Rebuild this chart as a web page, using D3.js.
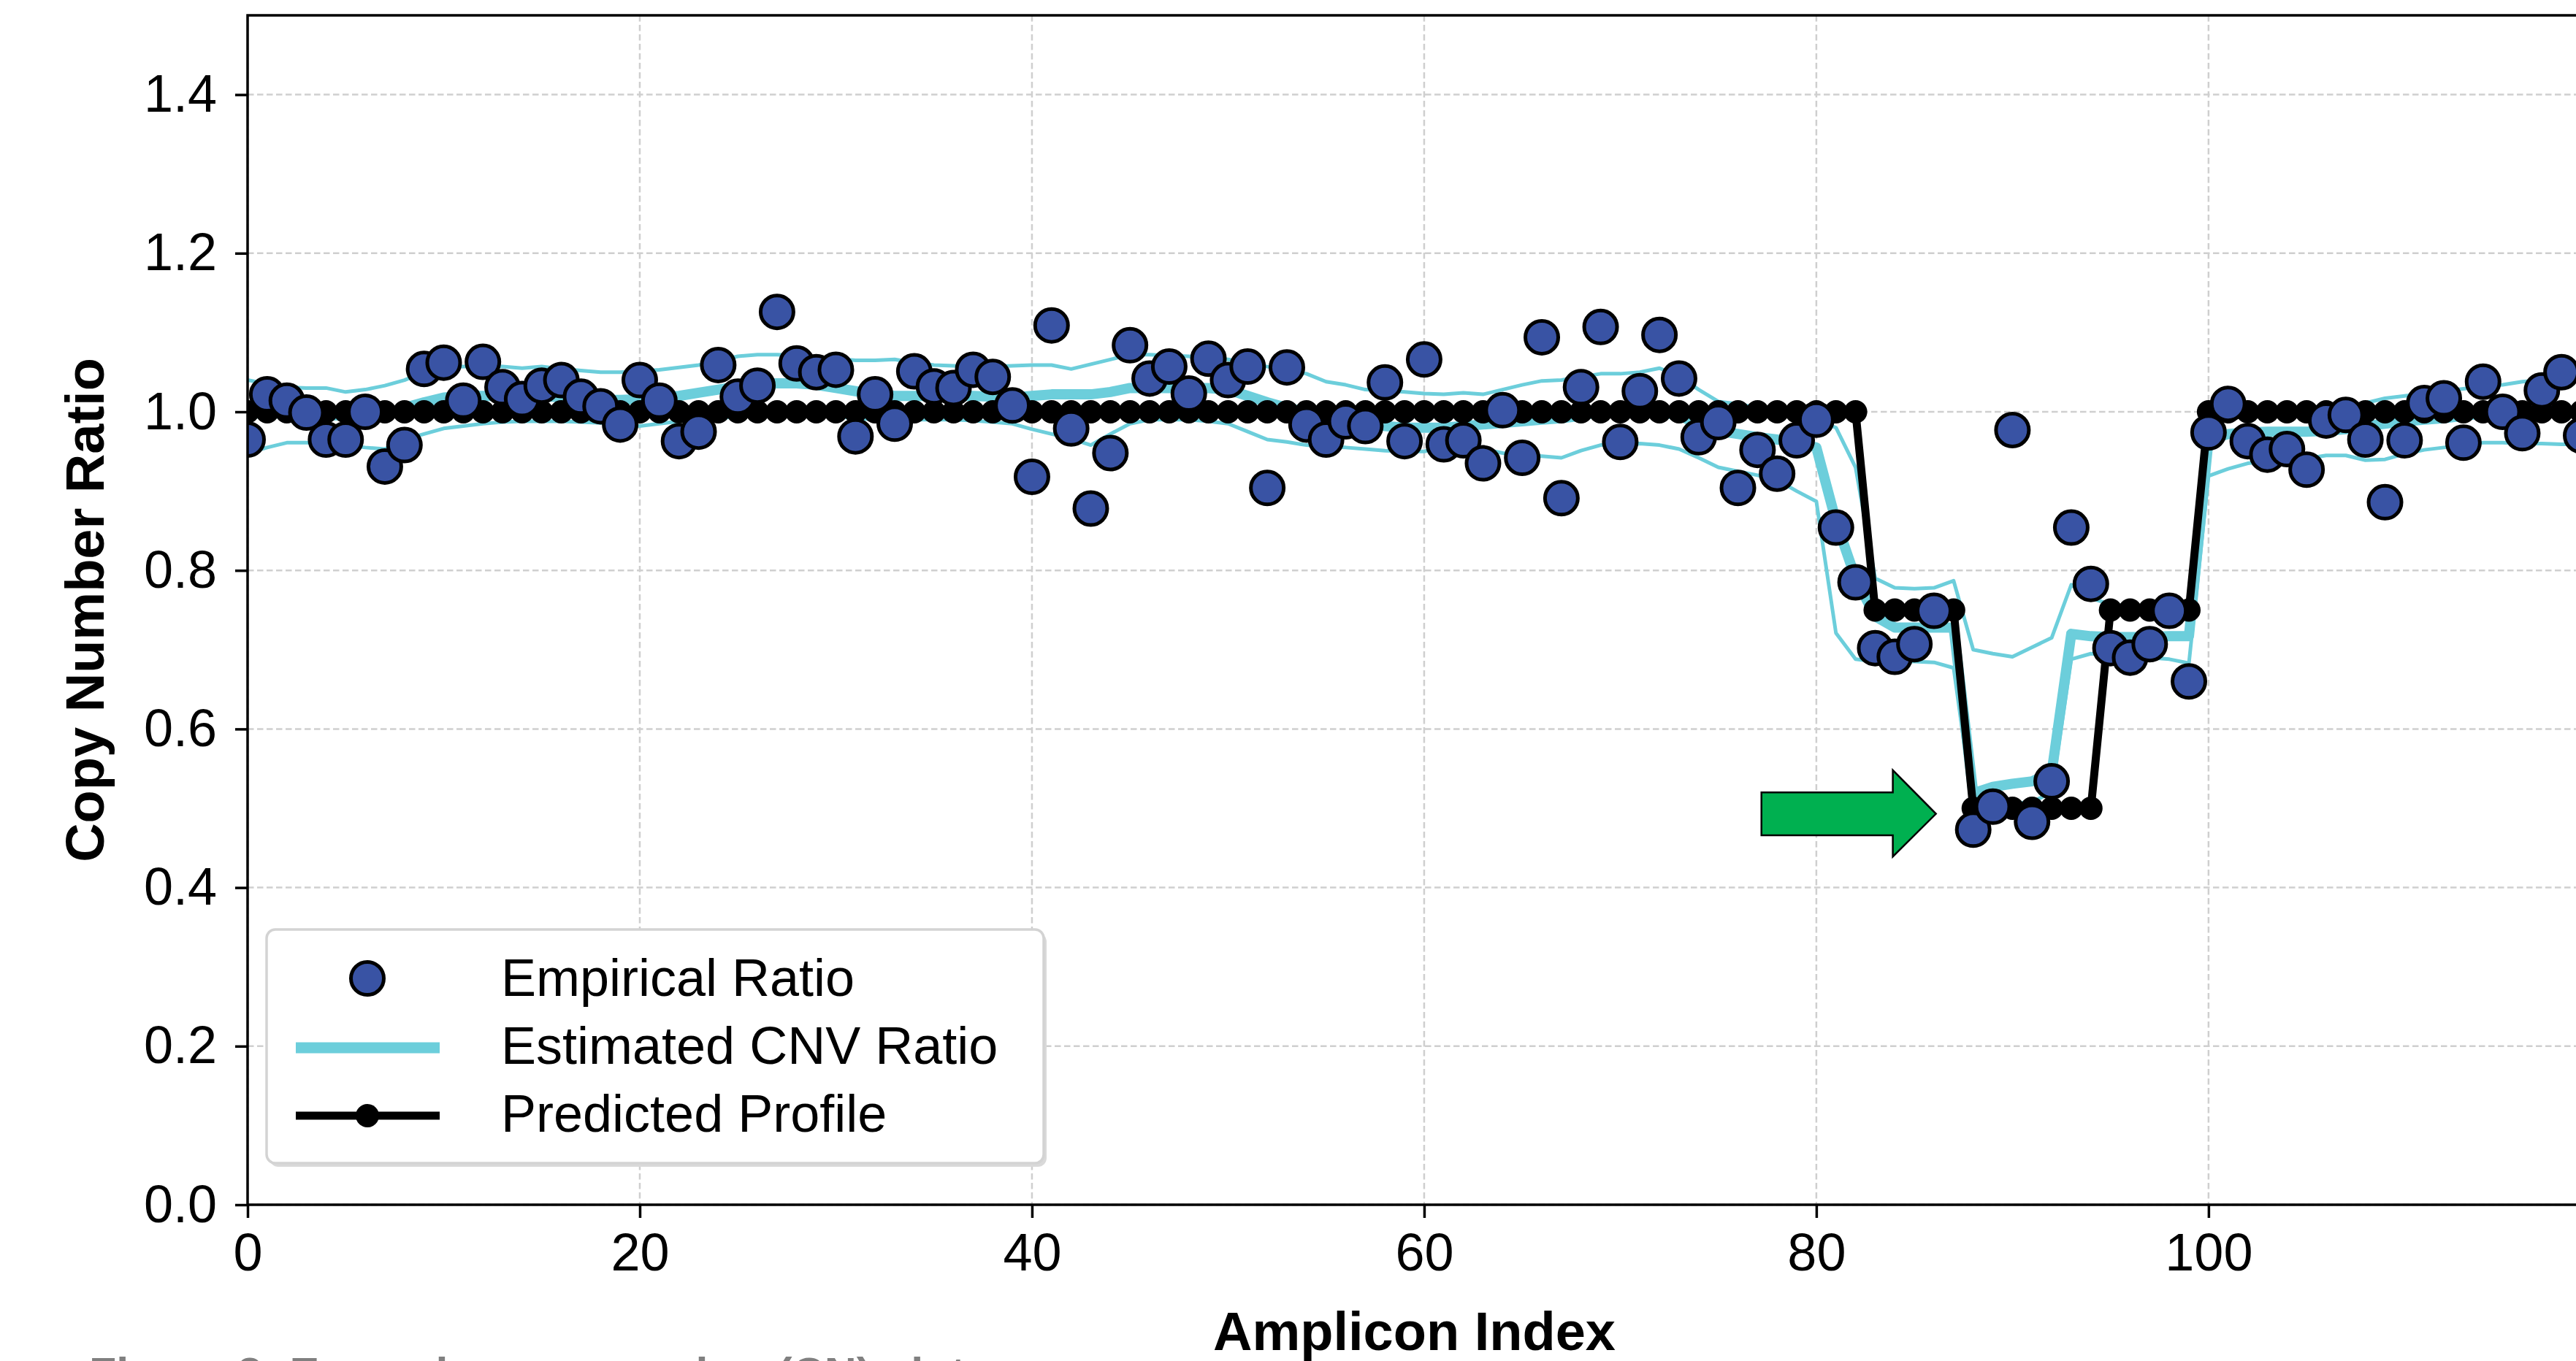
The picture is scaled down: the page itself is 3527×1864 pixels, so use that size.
<!DOCTYPE html>
<html lang="en">
<head>
    <meta charset="UTF-8">
    <title>Copy Number Ratio by Amplicon</title>
    <script src="https://cdn.jsdelivr.net/npm/d3@7"></script>
    <style>
        body {
            margin: 0;
            background: #ffffff;
        }
        svg {
            display: block;
            font-family: "Liberation Sans", Arial, Helvetica, sans-serif;
        }
        .grid line {
            stroke: #cfcfcf;
            stroke-width: 2.5;
            stroke-dasharray: 8.5 4.5;
        }
        .axis line {
            stroke: #000;
            stroke-width: 3.5;
        }
        .axis text {
            font-size: 72px;
            fill: #000;
        }
        .axis-title {
            font-size: 74px;
            font-weight: bold;
        }
        .legend-text {
            font-size: 72px;
        }
    </style>
</head>
<body>
    <svg id="chart" width="3527" height="1864"></svg>

    <script>
        // tick labels
        const xTicks = [0, 20, 40, 60, 80, 100];
        const yTicks = [0.0, 0.2, 0.4, 0.6, 0.8, 1.0, 1.2, 1.4];

        // amplicon index 0..119
        const amplicons = d3.range(0, 120);

        // empirical ratio (blue dots), amplicon 87 has no dot
        const empirical = [
            0.965, 1.022, 1.014, 0.999, 0.965, 0.965, 1.000, 0.931, 0.958, 1.054,
            1.062, 1.014, 1.063, 1.031, 1.016, 1.033, 1.040, 1.019, 1.007, 0.984,
            1.040, 1.014, 0.963, 0.975, 1.059, 1.019, 1.033, 1.126, 1.061, 1.050,
            1.053, 0.969, 1.022, 0.985, 1.051, 1.032, 1.030, 1.053, 1.044, 1.008,
            0.918, 1.109, 0.979, 0.878, 0.948, 1.084, 1.042, 1.057, 1.023, 1.067,
            1.040, 1.057, 0.904, 1.056, 0.984, 0.965, 0.988, 0.982, 1.037, 0.963,
            1.066, 0.959, 0.964, 0.935, 1.002, 0.942, 1.094, 0.891, 1.031, 1.107,
            0.962, 1.026, 1.097, 1.042, 0.968, 0.987, 0.904, 0.952, 0.922, 0.964,
            0.990, 0.854, 0.785, 0.702, 0.691, 0.707, 0.749, null, 0.473, 0.502,
            0.977, 0.483, 0.534, 0.854, 0.783, 0.702, 0.690, 0.707, 0.749, 0.660,
            0.974, 1.010, 0.963, 0.946, 0.953, 0.927, 0.989, 0.996, 0.965, 0.886,
            0.964, 1.011, 1.017, 0.961, 1.038, 1.000, 0.973, 1.027, 1.050, 0.970
        ];

        // estimated CNV ratio (thick cyan)
        const estimated = [
            0.998, 0.998, 0.998, 0.997, 0.996, 0.995, 0.996, 0.997, 1.005, 1.012,
            1.018, 1.020, 1.020, 1.020, 1.020, 1.020, 1.018, 1.016, 1.015, 1.015,
            1.016, 1.018, 1.020, 1.024, 1.028, 1.032, 1.035, 1.036, 1.036, 1.034,
            1.030, 1.026, 1.022, 1.020, 1.020, 1.020, 1.020, 1.020, 1.019, 1.018,
            1.020, 1.022, 1.022, 1.022, 1.025, 1.030, 1.030, 1.030, 1.030, 1.030,
            1.028, 1.020, 1.012, 1.005, 1.000, 0.995, 0.990, 0.985, 0.982, 0.980,
            0.980, 0.980, 0.982, 0.984, 0.986, 0.988, 0.990, 0.992, 0.995, 1.000,
            1.000, 1.000, 1.000, 0.995, 0.985, 0.976, 0.972, 0.968, 0.965, 0.962,
            0.955, 0.862, 0.790, 0.742, 0.728, 0.728, 0.728, 0.728, 0.519, 0.527,
            0.531, 0.534, 0.545, 0.720, 0.717, 0.716, 0.716, 0.716, 0.717, 0.717,
            0.965, 0.972, 0.974, 0.975, 0.975, 0.975, 0.976, 0.978, 0.982, 0.985,
            0.988, 0.990, 0.992, 0.995, 0.998, 1.000, 1.000, 1.000, 1.000, 1.000
        ];

        // upper / lower bounds of the estimate (thin cyan)
        const upperBound = [
            1.040, 1.035, 1.031, 1.030, 1.030, 1.025, 1.028, 1.033, 1.040, 1.050,
            1.056, 1.057, 1.057, 1.057, 1.055, 1.057, 1.054, 1.052, 1.050, 1.050,
            1.051, 1.053, 1.056, 1.059, 1.064, 1.070, 1.072, 1.072, 1.071, 1.069,
            1.067, 1.065, 1.065, 1.066, 1.062, 1.059, 1.058, 1.057, 1.057, 1.058,
            1.059, 1.059, 1.054, 1.060, 1.066, 1.072, 1.072, 1.071, 1.070, 1.068,
            1.066, 1.062, 1.057, 1.053, 1.048, 1.038, 1.034, 1.028, 1.027, 1.025,
            1.023, 1.022, 1.024, 1.022, 1.028, 1.034, 1.039, 1.040, 1.044, 1.048,
            1.048, 1.050, 1.055, 1.045, 1.028, 1.013, 1.010, 1.005, 1.000, 0.995,
            0.990, 0.980, 0.930, 0.790, 0.778, 0.777, 0.778, 0.787, 0.700, 0.695,
            0.691, 0.703, 0.715, 0.782, 0.765, 0.757, 0.755, 0.755, 0.755, 0.755,
            0.992, 0.995, 0.997, 0.999, 1.000, 1.002, 1.004, 1.006, 1.011, 1.017,
            1.020, 1.023, 1.026, 1.029, 1.032, 1.034, 1.038, 1.040, 1.041, 1.042
        ];
        const lowerBound = [
            0.948, 0.955, 0.961, 0.961, 0.960, 0.958, 0.955, 0.953, 0.965, 0.972,
            0.979, 0.982, 0.985, 0.987, 0.988, 0.988, 0.988, 0.987, 0.986, 0.984,
            0.982, 0.985, 0.988, 0.990, 0.992, 0.994, 0.996, 0.997, 0.997, 0.996,
            0.994, 0.992, 0.990, 0.990, 0.990, 0.990, 0.990, 0.989, 0.987, 0.985,
            0.978, 0.972, 0.966, 0.958, 0.972, 0.985, 0.990, 0.990, 0.990, 0.988,
            0.985, 0.975, 0.965, 0.962, 0.958, 0.956, 0.955, 0.953, 0.951, 0.950,
            0.950, 0.956, 0.958, 0.953, 0.948, 0.946, 0.944, 0.942, 0.951, 0.958,
            0.959, 0.960, 0.958, 0.953, 0.942, 0.930, 0.925, 0.920, 0.914, 0.900,
            0.887, 0.721, 0.688, 0.685, 0.685, 0.685, 0.684, 0.677, 0.500, 0.505,
            0.506, 0.508, 0.520, 0.688, 0.695, 0.692, 0.690, 0.690, 0.688, 0.683,
            0.919, 0.928, 0.935, 0.938, 0.940, 0.941, 0.945, 0.945, 0.939, 0.940,
            0.947, 0.952, 0.955, 0.958, 0.961, 0.961, 0.960, 0.960, 0.959, 0.959
        ];

        // predicted copy number profile (black)
        const predicted = [
            1.00, 1.00, 1.00, 1.00, 1.00, 1.00, 1.00, 1.00, 1.00, 1.00,
            1.00, 1.00, 1.00, 1.00, 1.00, 1.00, 1.00, 1.00, 1.00, 1.00,
            1.00, 1.00, 1.00, 1.00, 1.00, 1.00, 1.00, 1.00, 1.00, 1.00,
            1.00, 1.00, 1.00, 1.00, 1.00, 1.00, 1.00, 1.00, 1.00, 1.00,
            1.00, 1.00, 1.00, 1.00, 1.00, 1.00, 1.00, 1.00, 1.00, 1.00,
            1.00, 1.00, 1.00, 1.00, 1.00, 1.00, 1.00, 1.00, 1.00, 1.00,
            1.00, 1.00, 1.00, 1.00, 1.00, 1.00, 1.00, 1.00, 1.00, 1.00,
            1.00, 1.00, 1.00, 1.00, 1.00, 1.00, 1.00, 1.00, 1.00, 1.00,
            1.00, 1.00, 1.00, 0.75, 0.75, 0.75, 0.75, 0.75, 0.50, 0.50,
            0.50, 0.50, 0.50, 0.50, 0.50, 0.75, 0.75, 0.75, 0.75, 0.75,
            1.00, 1.00, 1.00, 1.00, 1.00, 1.00, 1.00, 1.00, 1.00, 1.00,
            1.00, 1.00, 1.00, 1.00, 1.00, 1.00, 1.00, 1.00, 1.00, 1.00
        ];

        // green arrow pointing at the deletion (data units)
        const arrowX = [77.2, 83.9, 86.1];
        const arrowY = [0.439, 0.466, 0.493, 0.520, 0.548];

        const legendLabels = ["Empirical Ratio", "Estimated CNV Ratio", "Predicted Profile"];

        const blue = "#3953a4";
        const cyan = "#6ccedb";

        const svg = d3.select("#chart");
        const mLeft = 339, mRight = 3534, mTop = 21, mBottom = 1650;

        const x = d3.scaleLinear().domain([0, 119]).range([mLeft, mRight]);
        const y = d3.scaleLinear().domain([0, 1.5]).range([mBottom, mTop]);

        svg.append("defs").append("clipPath")
            .attr("id", "plot-clip")
            .append("rect")
            .attr("x", mLeft).attr("y", mTop)
            .attr("width", mRight - mLeft).attr("height", mBottom - mTop);

        // grid
        const grid = svg.append("g").attr("class", "grid");
        grid.selectAll(".gx").data(xTicks).enter().append("line")
            .attr("x1", d => x(d)).attr("x2", d => x(d))
            .attr("y1", mTop).attr("y2", mBottom);
        grid.selectAll(".gy").data(yTicks).enter().append("line")
            .attr("x1", mLeft).attr("x2", mRight)
            .attr("y1", d => y(d)).attr("y2", d => y(d));

        // series
        const plot = svg.append("g").attr("clip-path", "url(#plot-clip)");
        const rows = amplicons.map((a, i) => ({
            a: a,
            emp: empirical[i],
            est: estimated[i],
            hi: upperBound[i],
            lo: lowerBound[i],
            pred: predicted[i]
        }));

        const lineOf = key => d3.line().x(d => x(d.a)).y(d => y(d[key]));

        plot.append("path").datum(rows)
            .attr("d", lineOf("hi"))
            .attr("fill", "none").attr("stroke", cyan).attr("stroke-width", 5)
            .attr("stroke-linejoin", "round");
        plot.append("path").datum(rows)
            .attr("d", lineOf("lo"))
            .attr("fill", "none").attr("stroke", cyan).attr("stroke-width", 5)
            .attr("stroke-linejoin", "round");
        plot.append("path").datum(rows)
            .attr("d", lineOf("est"))
            .attr("fill", "none").attr("stroke", cyan).attr("stroke-width", 14)
            .attr("stroke-linejoin", "round");

        plot.append("path").datum(rows)
            .attr("d", lineOf("pred"))
            .attr("fill", "none").attr("stroke", "#000").attr("stroke-width", 11)
            .attr("stroke-linejoin", "round");
        plot.append("g").selectAll("circle").data(rows).enter().append("circle")
            .attr("cx", d => x(d.a)).attr("cy", d => y(d.pred))
            .attr("r", 16).attr("fill", "#000");

        plot.append("g").selectAll("circle").data(rows.filter(d => d.emp !== null)).enter().append("circle")
            .attr("cx", d => x(d.a)).attr("cy", d => y(d.emp))
            .attr("r", 22.5)
            .attr("fill", blue).attr("stroke", "#000").attr("stroke-width", 5);

        // arrow
        const arrowPts = [
            [arrowX[0], arrowY[3]], [arrowX[1], arrowY[3]], [arrowX[1], arrowY[4]],
            [arrowX[2], arrowY[2]],
            [arrowX[1], arrowY[0]], [arrowX[1], arrowY[1]], [arrowX[0], arrowY[1]]
        ];
        svg.append("polygon")
            .attr("points", arrowPts.map(p => x(p[0]) + "," + y(p[1])).join(" "))
            .attr("fill", "#00b050").attr("stroke", "#000").attr("stroke-width", 2.5)
            .attr("stroke-linejoin", "miter");

        // axes
        svg.append("g").attr("class", "axis")
            .attr("transform", `translate(0,${mBottom})`)
            .call(d3.axisBottom(x).tickValues(xTicks).tickFormat(d3.format("d"))
                .tickSize(18).tickSizeOuter(0).tickPadding(21))
            .call(g => g.select(".domain").remove());
        svg.append("g").attr("class", "axis")
            .attr("transform", `translate(${mLeft},0)`)
            .call(d3.axisLeft(y).tickValues(yTicks).tickFormat(d3.format(".1f"))
                .tickSize(17).tickSizeOuter(0).tickPadding(25))
            .call(g => g.select(".domain").remove());
        svg.selectAll(".axis").attr("font-family", null).attr("font-size", null);

        // frame (right edge falls just outside the picture)
        svg.append("rect")
            .attr("x", mLeft).attr("y", mTop)
            .attr("width", mRight - mLeft).attr("height", mBottom - mTop)
            .attr("fill", "none").attr("stroke", "#000").attr("stroke-width", 3.5);

        // axis titles
        svg.append("text").attr("class", "axis-title")
            .attr("text-anchor", "middle")
            .attr("x", (mLeft + mRight) / 2).attr("y", 1849)
            .text("Amplicon Index");
        svg.append("text").attr("class", "axis-title")
            .attr("text-anchor", "middle")
            .attr("transform", `translate(142,${(mTop + mBottom) / 2}) rotate(-90)`)
            .text("Copy Number Ratio");

        // legend
        const lg = svg.append("g").attr("transform", "translate(365,1273)");
        lg.append("rect").attr("x", 4).attr("y", 5).attr("width", 1064).attr("height", 320)
            .attr("rx", 12).attr("fill", "#d9d9d9");
        lg.append("rect").attr("width", 1064).attr("height", 320)
            .attr("rx", 12).attr("fill", "#fff").attr("stroke", "#d3d3d3").attr("stroke-width", 3.5);

        lg.append("circle").attr("cx", 138).attr("cy", 67).attr("r", 22.5)
            .attr("fill", blue).attr("stroke", "#000").attr("stroke-width", 5);
        lg.append("line").attr("x1", 40).attr("x2", 237).attr("y1", 162).attr("y2", 162)
            .attr("stroke", cyan).attr("stroke-width", 15);
        lg.append("line").attr("x1", 40).attr("x2", 237).attr("y1", 255).attr("y2", 255)
            .attr("stroke", "#000").attr("stroke-width", 11);
        lg.append("circle").attr("cx", 138).attr("cy", 255).attr("r", 16).attr("fill", "#000");

        lg.selectAll(".legend-text").data(legendLabels).enter().append("text")
            .attr("class", "legend-text")
            .attr("x", 321).attr("y", (d, i) => 91 + i * 93)
            .text(d => d);

        // figure caption, cut off by the bottom edge as in the source picture
        svg.append("text")
            .attr("x", 122).attr("y", 1902)
            .attr("font-size", 61).attr("font-weight", "bold").attr("fill", "#808080")
            .text("Figure 3: Example copy number (CN) plot");
    </script>
</body>
</html>
